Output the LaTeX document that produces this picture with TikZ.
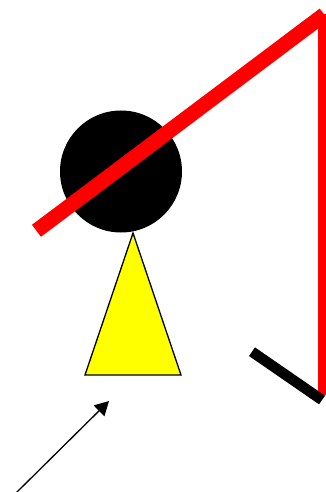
\documentclass[tikz,border=0pt]{standalone}
\usetikzlibrary{arrows.meta}
\definecolor{coneyellow}{RGB}{255,255,0}

\begin{document}
\begin{tikzpicture}[x=1pt,y=-1pt,line width=1.3pt,>={Triangle[length=14pt,width=15pt]},
  redbar/.style={draw=red,line cap=butt},
  blackbar/.style={draw=black,line cap=butt}]
\useasboundingbox (0,0) rectangle (325,492);
% ---------- 圆与三角 ----------
\fill[black] (121,171.5) circle (61);
\filldraw[fill=coneyellow,draw=black] (133,233) -- (181,375) -- (85,375) -- cycle;
% ---------- 红色折杆 ----------
\draw[redbar,line width=8pt] (321.5,14) -- (321.5,395);
\draw[redbar,line width=15pt] (36.5,230.8) -- (324.2,14.6);
% 黑色短杆（压在红杆下端）
\draw[blackbar,line width=10.5pt] (252,351.7) -- (322,400);
% ---------- 箭头 ----------
\coordinate (tail) at (16,493);
\coordinate (tip) at (109,401);
\draw[->] (tail) -- (tip);
\end{tikzpicture}
\end{document}
